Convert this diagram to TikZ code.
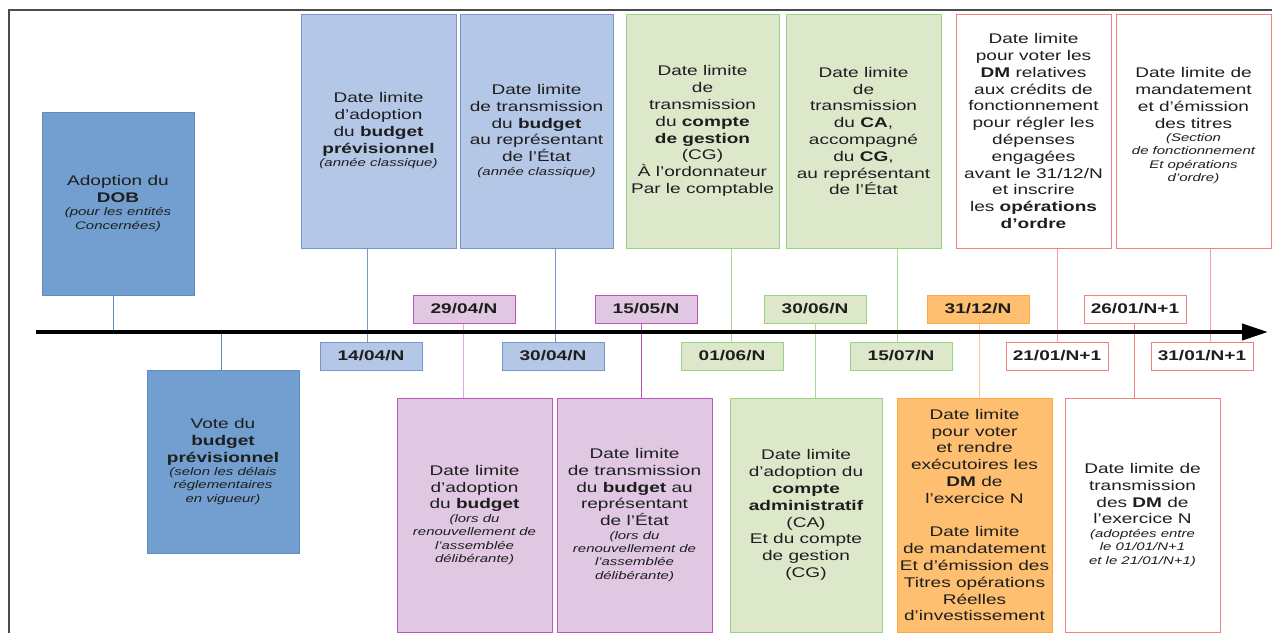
\documentclass[tikz,border=0pt]{standalone}
\usepackage{fontspec}
\setmainfont{Liberation Sans}[FakeStretch=1.36]
\usetikzlibrary{arrows.meta}
\definecolor{bdfill}{HTML}{729FCF}
\definecolor{bddraw}{HTML}{5F8CC3}
\definecolor{blfill}{HTML}{B4C7E7}
\definecolor{bldraw}{HTML}{7896CC}
\definecolor{pufill}{HTML}{E0C8E2}
\definecolor{pudraw}{HTML}{BF56BF}
\definecolor{puline}{HTML}{E6A6E6}
\definecolor{grfill}{HTML}{DDE8CB}
\definecolor{grdraw}{HTML}{99D384}
\definecolor{grline}{HTML}{A6DB8F}
\definecolor{orfill}{HTML}{FFBF70}
\definecolor{ordraw}{HTML}{FFA646}
\definecolor{orline}{HTML}{FFC58A}
\definecolor{rddraw}{HTML}{F28080}
\definecolor{rdline}{HTML}{F5A0A0}
\definecolor{txt}{HTML}{1E1E1E}
\newcommand\smit[1]{{\fontsize{11}{13.4}\selectfont\itshape #1}}
\tikzset{
  bx/.style={draw, rectangle, inner sep=0pt, align=center, line width=1pt,
    text=txt, font=\fontsize{14}{16.8}\selectfont},
  datebx/.style={bx, minimum width=102pt, minimum height=28pt, font=\fontsize{14}{16.8}\selectfont\bfseries},
  bluedark/.style={fill=bdfill, draw=bddraw},
  bluelight/.style={fill=blfill, draw=bldraw},
  purp/.style={fill=pufill, draw=pudraw},
  gree/.style={fill=grfill, draw=grdraw},
  oran/.style={fill=orfill, draw=ordraw},
  redd/.style={fill=white, draw=rddraw},
  conn/.style={line width=1pt},
}
\begin{document}
\begin{tikzpicture}[x=1pt,y=-1pt]
\useasboundingbox (0,0) rectangle (1272,633);
\fill[white] (0,0) rectangle (1272,633);
% frame
\draw[line width=1.5pt, color=black!70] (9,633) -- (9,10) -- (1272,10);

% axis coordinates
\coordinate (axL) at (36,332);
\coordinate (axR) at (1268,332);
\coordinate (k1) at (113,332);
\coordinate (k2) at (221,332);
\coordinate (k3) at (367,332);
\coordinate (k4) at (463,332);
\coordinate (k5) at (555,332);
\coordinate (k6) at (641,332);
\coordinate (k7) at (731,332);
\coordinate (k8) at (815,332);
\coordinate (k9) at (897,332);
\coordinate (k10) at (979,332);
\coordinate (k11) at (1057,332);
\coordinate (k12) at (1134,332);
\coordinate (k13) at (1210,332);

% boxes
\node[bx, bluedark, minimum width=152pt, minimum height=183pt] (dob) at (118,203.5)
  {Adoption du\\ \textbf{DOB}\\[-3.3pt] \smit{(pour les entités}\\[-3.4pt] \smit{Concernées)}};
\node[bx, bluedark, minimum width=152pt, minimum height=183pt] (vote) at (223,461.5)
  {Vote du\\ \textbf{budget}\\ \textbf{prévisionnel}\\[-3.3pt] \smit{(selon les délais}\\[-3.4pt] \smit{réglementaires}\\[-3.4pt] \smit{en vigueur)}};

\node[bx, bluelight, minimum width=155pt, minimum height=234pt] (adop) at (378.5,131)
  {Date limite\\ d'adoption\\ du \textbf{budget}\\ \textbf{prévisionnel}\\[-3.3pt] \smit{(année classique)}};
\node[bx, bluelight, minimum width=153pt, minimum height=234pt] (trans) at (536.5,131)
  {Date limite\\ de transmission\\ du \textbf{budget}\\ au représentant\\ de l'État\\[-3.3pt] \smit{(année classique)}};
\node[bx, gree, minimum width=153pt, minimum height=234pt] (cg) at (702.5,131)
  {Date limite\\ de\\ transmission\\ du \textbf{compte}\\ \textbf{de gestion}\\ (CG)\\ À l'ordonnateur\\ Par le comptable};
\node[bx, gree, minimum width=155pt, minimum height=234pt] (ca) at (863.5,131)
  {Date limite\\ de\\ transmission\\ du \textbf{CA},\\ accompagné\\ du \textbf{CG},\\ au représentant\\ de l'État};
\node[bx, redd, minimum width=155pt, minimum height=234pt] (dm) at (1033.5,131)
  {Date limite\\ pour voter les\\ \textbf{DM} relatives\\ aux crédits de\\ fonctionnement\\ pour régler les\\ dépenses\\ engagées\\ avant le 31/12/N\\ et inscrire\\ les \textbf{opérations}\\ \textbf{d'ordre}};
\node[bx, redd, minimum width=155pt, minimum height=234pt] (mand) at (1193.5,131)
  {Date limite de\\ mandatement\\ et d'émission\\ des titres\\[-3.3pt] \smit{(Section}\\[-3.4pt] \smit{de fonctionnement}\\[-3.4pt] \smit{Et opérations}\\[-3.4pt] \smit{d'ordre)}\\[-4pt] \mbox{}};

\node[bx, purp, minimum width=155pt, minimum height=234pt] (p1) at (474.5,515)
  {Date limite\\ d'adoption\\ du \textbf{budget}\\[-3.3pt] \smit{(lors du}\\[-3.4pt] \smit{renouvellement de}\\[-3.4pt] \smit{l'assemblée}\\[-3.4pt] \smit{délibérante)}};
\node[bx, purp, minimum width=155pt, minimum height=234pt] (p2) at (634.5,515)
  {Date limite\\ de transmission\\ du \textbf{budget} au\\ représentant\\ de l'État\\[-3.3pt] \smit{(lors du}\\[-3.4pt] \smit{renouvellement de}\\[-3.4pt] \smit{l'assemblée}\\[-3.4pt] \smit{délibérante)}};
\node[bx, gree, minimum width=152pt, minimum height=234pt] (g3) at (806,515)
  {Date limite\\ d'adoption du\\ \textbf{compte}\\ \textbf{administratif}\\ (CA)\\ Et du compte\\ de gestion\\ (CG)};
\node[bx, oran, minimum width=155pt, minimum height=234pt] (orb) at (974.5,515)
  {Date limite\\ pour voter\\ et rendre\\ exécutoires les\\ \textbf{DM} de\\ l’exercice N\\[16.8pt] Date limite\\ de mandatement\\ Et d’émission des\\ Titres opérations\\ Réelles\\ d’investissement};
\node[bx, redd, minimum width=155pt, minimum height=234pt] (rd) at (1142.5,515)
  {Date limite de\\ transmission\\ des \textbf{DM} de\\ l’exercice N\\[-3.3pt] \smit{(adoptées entre}\\[-3.4pt] \smit{le 01/01/N+1}\\[-3.4pt] \smit{et le 21/01/N+1)}};

% date boxes
\node[datebx, purp] (d2904) at (464,309) {29/04/N};
\node[datebx, purp] (d1505) at (646,309) {15/05/N};
\node[datebx, gree] (d3006) at (815,309) {30/06/N};
\node[datebx, oran] (d3112) at (978,309) {31/12/N};
\node[datebx, redd] (d2601) at (1135,309) {26/01/N+1};
\node[datebx, bluelight] (d1404) at (371,356) {14/04/N};
\node[datebx, bluelight] (d3004) at (553,356) {30/04/N};
\node[datebx, gree] (d0106) at (732,356) {01/06/N};
\node[datebx, gree] (d1507) at (901,356) {15/07/N};
\node[datebx, redd] (d2101) at (1057,356) {21/01/N+1};
\node[datebx, redd] (d3101) at (1202,356) {31/01/N+1};

% connectors
\draw[conn, bddraw] (dob.south -| k1) -- (k1);
\draw[conn, bddraw] (k2) -- (vote.north -| k2);
\draw[conn, bldraw] (adop.south -| k3) -- (d1404.north -| k3);
\draw[conn, bldraw] (trans.south -| k5) -- (d3004.north -| k5);
\draw[conn, puline] (d2904.south -| k4) -- (p1.north -| k4);
\draw[conn, pudraw] (d1505.south -| k6) -- (p2.north -| k6);
\draw[conn, grline] (cg.south -| k7) -- (d0106.north -| k7);
\draw[conn, grline] (ca.south -| k9) -- (d1507.north -| k9);
\draw[conn, grline] (d3006.south -| k8) -- (g3.north -| k8);
\draw[conn, orline] (d3112.south -| k10) -- (orb.north -| k10);
\draw[conn, rdline] (dm.south -| k11) -- (d2101.north -| k11);
\draw[conn, rdline] (mand.south -| k13) -- (d3101.north -| k13);
\draw[conn, rddraw] (d2601.south -| k12) -- (rd.north -| k12);

% axis
\draw[line width=4pt, -{Triangle[length=26pt,width=16pt]}] (axL) -- (axR);
\end{tikzpicture}
\end{document}
